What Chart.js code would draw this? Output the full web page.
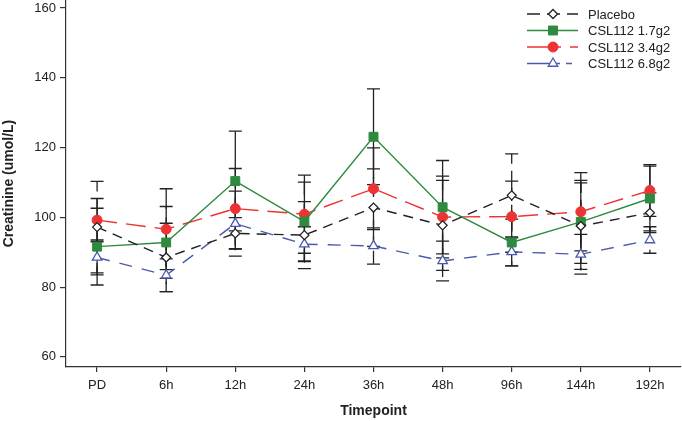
<!DOCTYPE html>
<html>
<head>
<meta charset="utf-8">
<script src="https://cdn.jsdelivr.net/npm/chart.js@4.4.1/dist/chart.umd.min.js"></script>
<style>
  html, body { margin: 0; padding: 0; background: #fff; }
  #wrap { width: 682px; height: 421px; }
</style>
</head>
<body>
<div id="wrap"><canvas id="chart"></canvas></div>
<script>
const timepoints = ['PD', '6h', '12h', '24h', '36h', '48h', '96h', '144h', '192h'];

// means and error (SD) per timepoint
const placebo    = [97.2, 88.5, 95.4, 94.9, 102.8, 97.7, 106.3, 97.5, 101.3];
const placeboErr = [13.1, 9.8, 4.5, 9.6, 11.1, 12.9, 11.9, 12.4, 5.7];
const csl17      = [91.6, 92.8, 110.4, 98.8, 123.1, 102.9, 92.8, 98.7, 105.4];
const csl17Err   = [11.0, 10.3, 14.3, 11.3, 13.7, 13.4, 6.7, 11.9, 9.3];
const csl34      = [99.2, 96.6, 102.5, 100.9, 108.2, 100.1, 100.2, 101.6, 107.7];
const csl34Err   = [6.2, 11.6, 11.5, 11.2, 11.7, 11.7, 10.2, 11.2, 7.4];
const csl68      = [88.5, 83.4, 98.2, 92.3, 91.8, 87.5, 90.1, 89.4, 93.5];
const csl68Err   = [5.0, 4.7, 9.3, 5.0, 5.2, 5.7, 4.0, 5.7, 3.8];

const yTicks = [60, 80, 100, 120, 140, 160];

function toPoints(vals) {
  return vals.map((v, i) => ({ x: i, y: v }));
}

// error bars drawn under the lines, in each series' dash style
const errorBars = {
  id: 'errorBars',
  beforeDatasetsDraw(chart) {
    const ctx = chart.ctx;
    const xs = chart.scales.x, ys = chart.scales.y;
    chart.data.datasets.forEach((ds, i) => {
      if (!chart.isDatasetVisible(i)) return;
      ds.data.forEach((p, j) => {
        const e = ds.errors[j];
        const x = xs.getPixelForValue(p.x);
        const top = ys.getPixelForValue(p.y + e);
        const bot = ys.getPixelForValue(p.y - e);
        ctx.save();
        ctx.strokeStyle = '#222';
        ctx.lineWidth = 1.3;
        ctx.setLineDash(ds.borderDash || []);
        ctx.beginPath();
        ctx.moveTo(x, top);
        ctx.lineTo(x, bot);
        ctx.stroke();
        ctx.setLineDash([]);
        ctx.beginPath();
        ctx.moveTo(x - 6.5, top); ctx.lineTo(x + 6.5, top);
        ctx.moveTo(x - 6.5, bot); ctx.lineTo(x + 6.5, bot);
        ctx.stroke();
        ctx.restore();
      });
    });
  }
};

// legend in the top right corner: line sample + marker + label
const cornerLegend = {
  id: 'cornerLegend',
  afterDraw(chart) {
    const ctx = chart.ctx;
    const x0 = chart.chartArea.right - 154;
    chart.data.datasets.forEach((ds, i) => {
      const y = 14 + i * 16.5;
      ctx.save();
      ctx.strokeStyle = ds.borderColor;
      ctx.lineWidth = 1.5;
      ctx.setLineDash(ds.legendDash || []);
      ctx.beginPath();
      ctx.moveTo(x0, y);
      ctx.lineTo(x0 + 51, y);
      ctx.stroke();
      ctx.setLineDash([]);
      ctx.fillStyle = ds.pointBackgroundColor;
      ctx.strokeStyle = ds.pointBorderColor;
      ctx.lineWidth = ds.pointBorderWidth;
      Chart.helpers.drawPoint(ctx, {
        pointStyle: ds.pointStyle, radius: ds.pointRadius, rotation: 0, borderWidth: ds.pointBorderWidth
      }, x0 + 26, y);
      ctx.fillStyle = '#222';
      ctx.font = '13px "Liberation Sans", Arial, sans-serif';
      ctx.textBaseline = 'middle';
      ctx.fillText(ds.label, x0 + 61, y + 1);
      ctx.restore();
    });
  }
};

new Chart(document.getElementById('chart'), {
  type: 'line',
  data: {
    datasets: [{
      label: 'Placebo',
      data: toPoints(placebo),
      errors: placeboErr,
      borderColor: '#222',
      borderWidth: 1.4,
      borderDash: [10, 7],
      legendDash: [13, 7],
      pointStyle: 'rectRot',
      pointRadius: 4.5,
      pointBackgroundColor: '#fff',
      pointBorderColor: '#222',
      pointBorderWidth: 1.3
    }, {
      label: 'CSL112 1.7g2',
      data: toPoints(csl17),
      errors: csl17Err,
      borderColor: '#2e8a3e',
      borderWidth: 1.4,
      legendDash: [],
      pointStyle: 'rect',
      pointRadius: 6.3,
      pointBackgroundColor: '#2e8a3e',
      pointBorderColor: '#2e8a3e',
      pointBorderWidth: 1
    }, {
      label: 'CSL112 3.4g2',
      data: toPoints(csl34),
      errors: csl34Err,
      borderColor: '#ec3434',
      borderWidth: 1.4,
      borderDash: [20, 9],
      legendDash: [34, 9],
      pointStyle: 'circle',
      pointRadius: 5,
      pointBackgroundColor: '#ec3434',
      pointBorderColor: '#ec3434',
      pointBorderWidth: 1
    }, {
      label: 'CSL112 6.8g2',
      data: toPoints(csl68),
      errors: csl68Err,
      borderColor: '#4a5aae',
      borderWidth: 1.4,
      borderDash: [13, 10],
      legendDash: [33, 6, 6, 10],
      pointStyle: 'triangle',
      pointRadius: 5.5,
      pointBackgroundColor: '#fff',
      pointBorderColor: '#4a5aae',
      pointBorderWidth: 1.3
    }]
  },
  options: {
    responsive: true,
    maintainAspectRatio: false,
    animation: false,
    layout: { autoPadding: false, padding: { left: 0, right: 1, top: 0, bottom: 0 } },
    plugins: {
      legend: { display: false },
      tooltip: { enabled: false }
    },
    elements: { line: { tension: 0 } },
    scales: {
      x: {
        type: 'linear',
        min: -0.45,
        max: 8.45,
        afterFit: s => { s.height = 54; s.paddingLeft = 0; s.paddingRight = 0; },
        border: { display: true, color: '#333', width: 1.2 },
        grid: { drawOnChartArea: false, drawTicks: true, tickLength: 5, color: '#333', lineWidth: 1.2 },
        ticks: {
          stepSize: 1,
          includeBounds: false,
          padding: 6,
          color: '#222',
          font: { family: '"Liberation Sans", Arial, sans-serif', size: 13 },
          callback: v => Number.isInteger(v) ? timepoints[v] : ''
        },
        title: {
          display: true,
          text: 'Timepoint',
          color: '#222',
          padding: { top: 0, bottom: 1 },
          font: { family: '"Liberation Sans", Arial, sans-serif', size: 14, weight: 'bold' }
        }
      },
      y: {
        min: 57.1,
        max: 162.3,
        afterFit: s => { s.width = 66; s.paddingTop = 0; s.paddingBottom = 0; },
        afterBuildTicks: s => { s.ticks = yTicks.map(v => ({ value: v })); },
        border: { display: true, color: '#333', width: 1.2 },
        grid: { drawOnChartArea: false, drawTicks: true, tickLength: 6, color: '#333', lineWidth: 1.2 },
        ticks: {
          padding: 4,
          color: '#222',
          font: { family: '"Liberation Sans", Arial, sans-serif', size: 13 }
        },
        title: {
          display: true,
          text: 'Creatinine (umol/L)',
          color: '#222',
          padding: { top: 1, bottom: 0 },
          font: { family: '"Liberation Sans", Arial, sans-serif', size: 14, weight: 'bold' }
        }
      }
    }
  },
  plugins: [errorBars, cornerLegend]
});
</script>
</body>
</html>
